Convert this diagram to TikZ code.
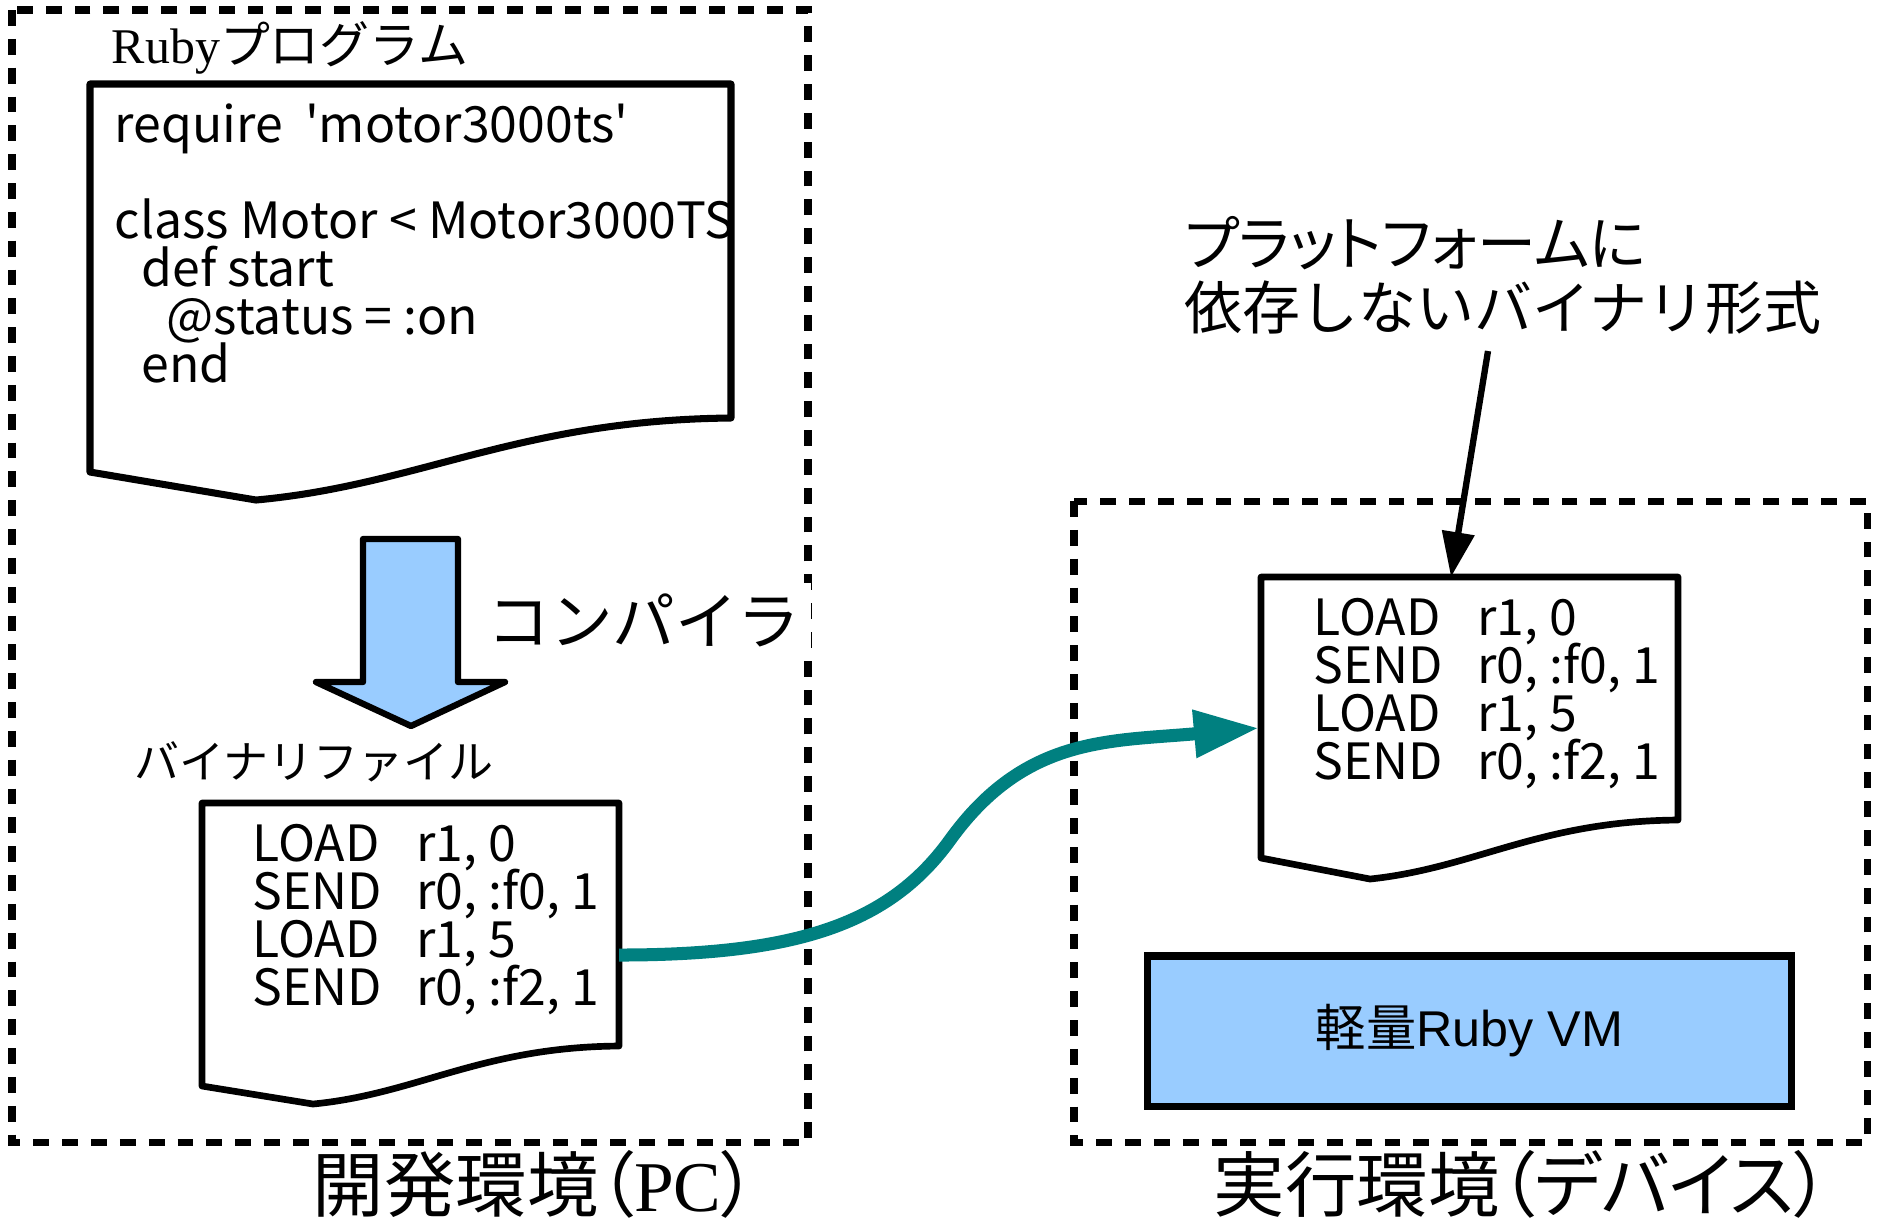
\documentclass[tikz,border=0pt]{standalone}
\usepackage{fontspec}
\newfontfamily\jpfont{Noto Sans CJK JP}
\newfontfamily\jppalt[RawFeature=+palt]{Noto Sans CJK JP}
\newfontfamily\codefont{Noto Sans CJK JP}
\newfontfamily\serifl{Liberation Serif}
\newfontfamily\arialf{Liberation Sans}
\usetikzlibrary{arrows.meta,calc}
\definecolor{lblue}{RGB}{153,204,255}
\definecolor{tealc}{RGB}{0,128,128}
\newcommand\myinsn[2]{\makebox[46.5pt][l]{#1}#2}
\begin{document}
\begin{tikzpicture}[x=0.01cm,y=-0.01cm,
  envbox/.style={line width=2pt, dash pattern=on 4.5pt off 3.7pt},
  docshape/.style={line width=1.9pt, line join=round, fill=white},
  code/.style={inner sep=0pt, anchor=base west, font=\codefont\fontsize{14.2pt}{13.7pt}\selectfont},
  jlab/.style={inner sep=0pt},
  envlab/.style={inner sep=0pt, anchor=base, font=\jppalt\fontsize{20.3pt}{23pt}\selectfont}]
\useasboundingbox[fill=white] (0,0) rectangle (1885,1226);

% environments
\draw[envbox] (12,10) rectangle (808,1142);
\draw[envbox] (1074,501) rectangle (1867,1142);
\node[envlab] (pcenv) at (535,1211) {開発環境（{\serifl PC}）};
\node[envlab] (devenv) at (1522,1211) {実行環境（デバイス）};

% program document
\node[jlab, font=\jpfont\fontsize{14.2pt}{16pt}\selectfont] (rubyprog) at (290,48) {{\serifl Ruby}プログラム};
\draw[docshape, line width=2pt] (90,84) -- (731,84) -- (731,418) .. controls (518,420) and (420,485) .. (256,500) -- (90,472) -- cycle;
\node[code] (p1) at (114,142) {require\ \ 'motor3000ts'};
\node[code] (p2) at (114,238) {class Motor < Motor3000TS};
\node[code] (p3) at (141,286) {def start};
\node[code] (p4) at (166,334) {@status = :on};
\node[code] (p5) at (141,382) {end};

% compile arrow
\draw[line width=1.8pt, line join=round, fill=lblue] (363,539) -- (458,539) -- (458,682) -- (505,682) -- (411,726) -- (316,682) -- (363,682) -- cycle;
\node[fill=white, inner sep=3pt, font=\jpfont\fontsize{17.8pt}{21pt}\selectfont] (compiler) at (644,620) {コンパイラ};

% binary file (PC)
\node[jlab, font=\jpfont\fontsize{12.8pt}{14pt}\selectfont] (binlabel) at (314,762) {バイナリファイル};
\draw[docshape] (202,803) -- (619,803) -- (619,1046) .. controls (481,1047) and (417,1094) .. (313,1104) -- (202,1086) -- cycle;
\node[code] (b1) at (252,861) {\myinsn{LOAD}{r1, 0}};
\node[code] (b2) at (252,909) {\myinsn{SEND}{r0, :f0, 1}};
\node[code] (b3) at (252,957) {\myinsn{LOAD}{r1, 5}};
\node[code] (b4) at (252,1005) {\myinsn{SEND}{r0, :f2, 1}};
\coordinate (binout) at (619,955);

% binary file (device)
\draw[docshape] (1261,577) -- (1678,577) -- (1678,820) .. controls (1539,821) and (1475,868) .. (1370,879) -- (1261,858) -- cycle;
\node[code] (d1) at (1313,635) {\myinsn{LOAD}{r1, 0}};
\node[code] (d2) at (1313,683) {\myinsn{SEND}{r0, :f0, 1}};
\node[code] (d3) at (1313,731) {\myinsn{LOAD}{r1, 5}};
\node[code] (d4) at (1313,779) {\myinsn{SEND}{r0, :f2, 1}};
\coordinate (devin) at (1259,728);
\coordinate (devtop) at (1451,577);

% VM
\node[draw, fill=lblue, line width=2pt, minimum width=6.43cm, minimum height=1.5cm] (vm) at (1469.5,1031) {{\jpfont\fontsize{14.3pt}{16pt}\selectfont 軽量}{\arialf\fontsize{14.3pt}{16pt}\selectfont Ruby VM}};

% platform label
\node[inner sep=0pt, anchor=base west, font=\jppalt\fontsize{16.8pt}{18pt}\selectfont] (plat1) at (1184,265) {プラットフォームに};
\node[inner sep=0pt, anchor=base west, font=\jpfont\fontsize{16.5pt}{18pt}\selectfont] (plat2) at (1184,329) {依存しないバイナリ形式};
\coordinate (platfoot) at (1488,351);

% connectors
\draw[tealc, line width=3.7pt, -{Triangle[length=18.5pt,width=12.8pt]}] (binout) .. controls (799,955) and (890,923) .. (950,840) .. controls (1025,736) and (1109,741.5) .. (devin);
\draw[line width=1.8pt, -{Triangle[length=12.8pt,width=9pt]}] (platfoot) -- (devtop);
\end{tikzpicture}
\end{document}
